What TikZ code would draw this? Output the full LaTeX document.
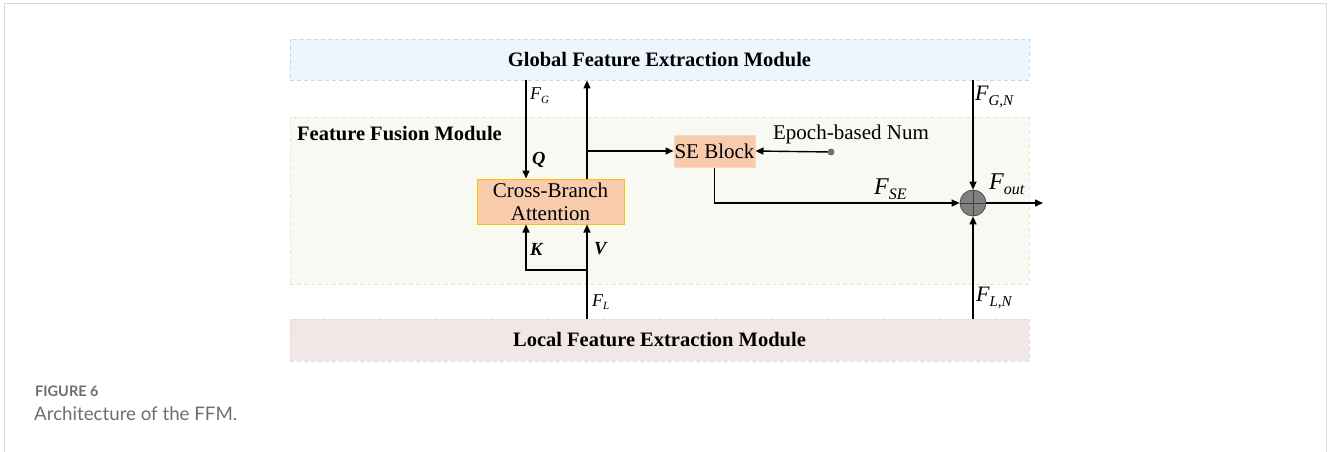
\documentclass[tikz,border=0pt]{standalone}
\usepackage{fontspec}
\setmainfont{Liberation Serif}
\newfontfamily\capfont{Lato}
\usetikzlibrary{arrows.meta,calc}

\definecolor{globfill}{HTML}{EEF6FD}
\definecolor{globline}{HTML}{B7E0F4}
\definecolor{fusefill}{HTML}{F9F9F3}
\definecolor{fuseline}{HTML}{E6E2D2}
\definecolor{locfill}{HTML}{F1E7E6}
\definecolor{locline}{HTML}{E4D9D6}
\definecolor{peach}{HTML}{F8CBAD}
\definecolor{cbaline}{HTML}{FFC000}
\definecolor{seline}{HTML}{FBD9C4}
\definecolor{sumfill}{HTML}{808080}
\definecolor{frameline}{HTML}{D9D9D9}
\definecolor{capgrey}{HTML}{6E6E6E}

% italic variable with an italic subscript: #1 size, #2 sub size, #3 letter, #4 subscript
\newcommand{\mvar}[4]{{\fontsize{#1}{#1}\selectfont\itshape #3\raisebox{-0.45ex}{\fontsize{#2}{#2}\selectfont #4}}}

\tikzset{
  modbox/.style={draw, dashed, dash pattern=on 4pt off 3pt, line width=0.8pt, inner sep=0pt},
  modtext/.style={font=\fontsize{20.5}{20.5}\selectfont\bfseries},
  block/.style={fill=peach, line width=1pt, inner sep=0pt, align=center,
                font=\fontsize{21}{23}\selectfont},
  arr/.style={line width=1.4pt, -{Triangle[length=8pt,width=7pt]}},
  lbl/.style={inner sep=0pt, anchor=west},
  qkv/.style={font=\fontsize{18.5}{18.5}\selectfont\bfseries\itshape, inner sep=0pt, anchor=west},
}

\begin{document}
\begin{tikzpicture}[x=1pt,y=-1pt]
\useasboundingbox (0,0) rectangle (1328,452);

% outer frame
\draw[frameline, line width=1pt] (4.5,452) -- (4.5,3.5) -- (1326,3.5) -- (1326,452);

% module bands
\node[modbox, fill=globfill, draw=globline, minimum width=739pt, minimum height=41pt,
      modtext] (glob) at (659.5,59.5) {Global Feature Extraction Module};
\node[modbox, fill=fusefill, draw=fuseline, minimum width=739pt, minimum height=167pt]
      (fuse) at (659.5,200.5) {};
\node[modtext, anchor=west, inner sep=0pt] (fusetitle) at (297,134) {Feature Fusion Module};
\node[modbox, fill=locfill, draw=locline, minimum width=739pt, minimum height=42pt,
      modtext] (loc) at (659.5,340) {Local Feature Extraction Module};

% inner blocks
\node[block, draw=cbaline, minimum width=147pt, minimum height=45pt] (cba)
      at (550.5,201.5) {Cross-Branch\\Attention};
\node[block, draw=seline, minimum width=81pt, minimum height=32pt] (se)
      at (714.5,151) {SE Block};
\node[circle, fill=sumfill, draw=black!70, line width=0.8pt, minimum size=26pt,
      inner sep=0pt] (sum) at (973,203) {};
\draw[black!75, line width=0.7pt] (sum.north) -- (sum.south) (sum.west) -- (sum.east);

% auxiliary coordinates
\coordinate (qx) at (526,0);
\coordinate (vx) at (587,0);
\coordinate (kv) at (0,270);
\coordinate (out) at (1043,203);
\node[circle, fill=black!55, draw=black!70, line width=0.5pt, minimum size=6pt,
      inner sep=0pt] (ep) at (831,152) {};
\node[font=\fontsize{21}{21}\selectfont, inner sep=0pt] (eptext) at (851,134) {Epoch-based Num};

% connectors
\draw[arr] (glob.south -| qx) -- (cba.north -| qx);
\draw[arr] (cba.north -| vx) -- (glob.south -| vx);
\draw[arr] (vx |- se.west) -- (se.west);
\draw[arr] (ep) -- (se.east);
\draw[arr] (loc.north -| vx) -- (cba.south -| vx);
\draw[arr] (vx |- kv) -| (cba.south -| qx);
\draw[arr] (se.south) |- (sum.west);
\draw[arr] (glob.south -| sum) -- (sum.north);
\draw[arr] (loc.north -| sum) -- (sum.south);
\draw[arr] (sum.east) -- (out);

% labels
\node[lbl] (lfg) at (530,96) {\mvar{18}{11}{F}{G}};
\node[qkv] (lq) at (532,160) {Q};
\node[qkv] (lk) at (530,249) {K};
\node[qkv] (lv) at (594,249) {V};
\node[lbl] (lfl) at (592,302) {\mvar{18}{11}{F}{L}};
\node[lbl] (lfgn) at (975,97) {\mvar{22}{15}{F}{G,N}};
\node[lbl] (lfln) at (976,298) {\mvar{22}{15}{F}{L,N}};
\node[lbl] (lfse) at (874,189) {\mvar{24}{16}{F}{SE}};
\node[lbl] (lfout) at (989,184) {\mvar{24}{16}{F}{out}};

% caption
\node[font=\capfont\fontsize{14.5}{14.5}\selectfont\bfseries, text=capgrey, anchor=base west,
      inner sep=0pt] (capnum) at (35,396) {FIGURE 6};
\node[font=\capfont\fontsize{18.7}{18.7}\selectfont, text=capgrey, anchor=base west,
      inner sep=0pt] (captext) at (34,420) {Architecture of the FFM.};
\end{tikzpicture}
\end{document}
